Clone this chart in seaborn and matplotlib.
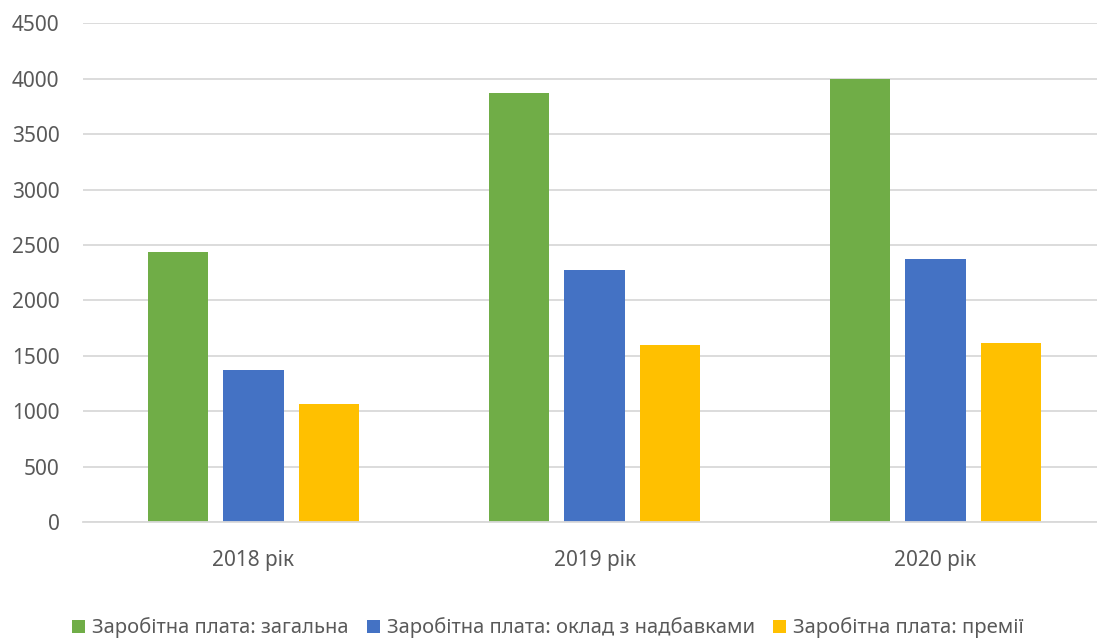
import matplotlib
matplotlib.use("Agg")
import matplotlib.pyplot as plt
import seaborn as sns
import pandas as pd

categories = ["2018 рік", "2019 рік", "2020 рік"]
series_names = ["Заробітна плата: загальна",
                "Заробітна плата: оклад з надбавками",
                "Заробітна плата: премії"]
total = [2437, 3874, 4000]
base = [1371, 2275, 2374]
bonus = [1065, 1593, 1617]
colors = ["#70AD47", "#4472C4", "#FFC000"]
y_ticks = [0, 500, 1000, 1500, 2000, 2500, 3000, 3500, 4000, 4500]

rows = []
for name, vals in zip(series_names, [total, base, bonus]):
    for c, v in zip(categories, vals):
        rows.append({"cat": c, "series": name, "value": v})
df = pd.DataFrame(rows)

sns.set_theme(style="white")
plt.rcParams['font.family'] = ['Noto Sans', 'DejaVu Sans']

fig = plt.figure(figsize=(10.97, 6.39), dpi=100)
W, H = 1097, 639
left, right = 83, 1106
bottom, top = 522, 23.3
ax = fig.add_axes([left / W, 1 - bottom / H, (right - left) / W, (bottom - top) / H])

sns.barplot(data=df, x="cat", y="value", hue="series", order=categories,
            hue_order=series_names, palette=colors, width=0.664, gap=0.2,
            saturation=1, ax=ax, legend=True, linewidth=0)

ax.set_xlim(-0.5, 2.5)
ax.set_ylim(0, 4500)
ax.set_yticks(y_ticks)
ax.set_yticklabels([str(t) for t in y_ticks])
ax.yaxis.grid(True, color="#D9D9D9", linewidth=1.3)
ax.set_axisbelow(True)
for s in ["top", "right", "left"]:
    ax.spines[s].set_visible(False)
ax.spines["bottom"].set_color("#D9D9D9")
ax.spines["bottom"].set_linewidth(1.3)
ax.set_xlabel("")
ax.set_ylabel("")
ax.tick_params(axis="y", length=0, pad=17, labelsize=15, labelcolor="#595959")
ax.tick_params(axis="x", length=0, pad=20, labelsize=15, labelcolor="#595959")

handles, labels = ax.get_legend_handles_labels()
ax.get_legend().remove()
fig.legend(handles, labels, loc="center", bbox_to_anchor=(548 / W, 1 - 628 / H),
           ncol=3, frameon=False, fontsize=14.5, labelcolor="#595959",
           handlelength=0.65, handleheight=0.65, handletextpad=0.35, columnspacing=0.9)

fig.savefig("out.png", dpi=100)
